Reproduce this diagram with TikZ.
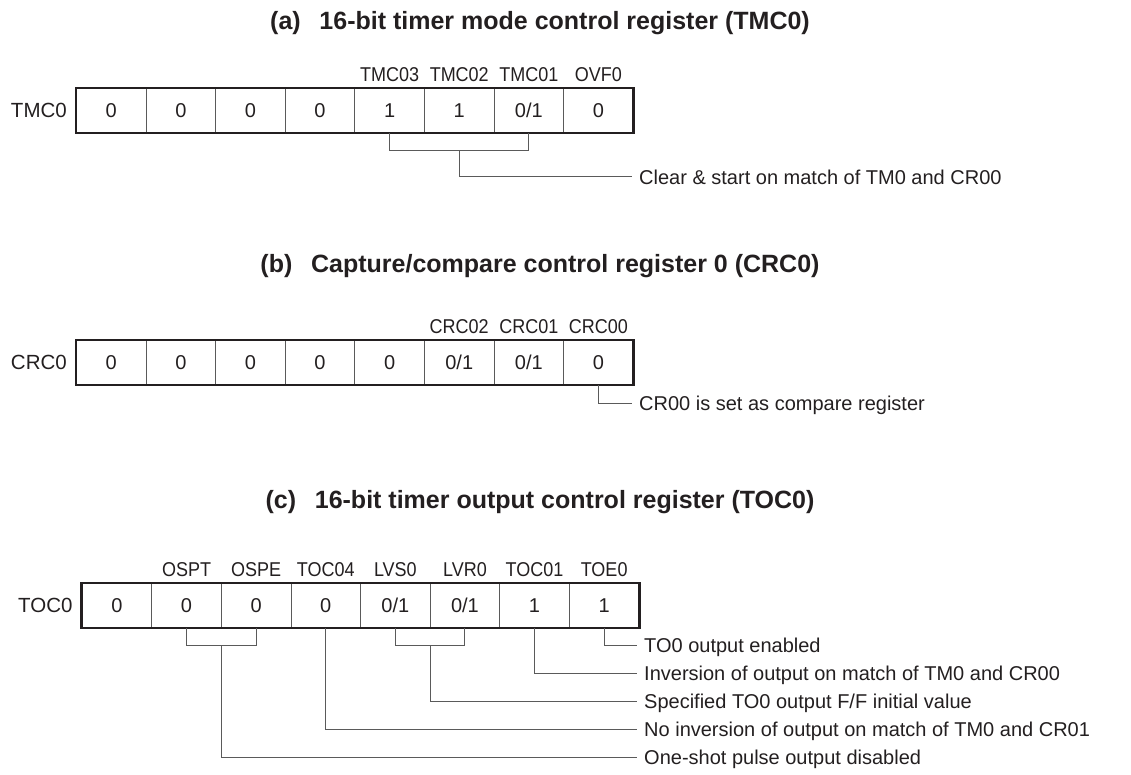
\documentclass[tikz,border=0pt]{standalone}
\usepackage{fontspec}
\setmainfont{Liberation Sans}
\newfontfamily\narrowfont[FakeStretch=0.9]{Liberation Sans}
\usepackage{xcolor}
\usetikzlibrary{positioning,calc}
\definecolor{regInk}{HTML}{231F20}
\definecolor{regGray}{HTML}{5A5A5A}

\begin{document}
\begin{tikzpicture}[x=1pt,y=-1pt,font=\fontsize{20}{24}\selectfont,text=regInk,
  cell/.style={draw=regGray,line width=0.9pt,minimum width=69.6pt,minimum height=44pt,
    inner sep=0pt,anchor=north west,text height=14.3pt,text depth=0pt},
  frame/.style={draw=regInk,line width=2.6pt},
  wire/.style={draw=regGray,line width=1pt},
  head/.style={font=\fontsize{25}{30}\selectfont\bfseries,text height=17.9pt,text depth=0pt},
  regname/.style={inner sep=0pt,font=\fontsize{20.5}{24}\selectfont,text height=14.7pt,text depth=0pt},
  bitname/.style={inner sep=0pt,font=\narrowfont\fontsize{20}{24}\selectfont,text height=14.3pt,text depth=0pt},
  desc/.style={anchor=west,inner xsep=7pt,inner ysep=0pt,text height=14.3pt,text depth=0pt}]
\useasboundingbox (0,0) rectangle (1131,775);

% (a) TMC0
\node[head] (headA) at (540,21) {(a)\hspace{0.75em}16-bit timer mode control register (TMC0)};
\foreach \v [count=\i] in {0,0,0,0,1,1,{0/1},0}
  \node[cell] (tmc\i) at ({76+69.6*(\i-1)},88) {\v};
\draw[frame] (tmc1.north west) rectangle (tmc8.south east);
\node[regname,left=9pt of tmc1] (regA) {TMC0};
\node[bitname,above=6pt of tmc5] {TMC03};
\node[bitname,above=6pt of tmc6] {TMC02};
\node[bitname,above=6pt of tmc7] {TMC01};
\node[bitname,above=6pt of tmc8] {OVF0};
\node[desc] (clrA) at (632,177) {Clear \& start on match of TM0 and CR00};
\coordinate (kA) at (0,151);
\draw[wire] (tmc5.south) |- (tmc7.south |- kA) -- (tmc7.south);
\draw[wire] (tmc6.south |- kA) |- (clrA.west);

% (b) CRC0
\node[head] (headB) at (540,264) {(b)\hspace{0.75em}Capture/compare control register 0 (CRC0)};
\foreach \v [count=\i] in {0,0,0,0,0,{0/1},{0/1},0}
  \node[cell] (crc\i) at ({76+69.6*(\i-1)},340) {\v};
\draw[frame] (crc1.north west) rectangle (crc8.south east);
\node[regname,left=9pt of crc1] (regB) {CRC0};
\node[bitname,above=6pt of crc6] {CRC02};
\node[bitname,above=6pt of crc7] {CRC01};
\node[bitname,above=6pt of crc8] {CRC00};
\node[desc] (cmpB) at (632,403) {CR00 is set as compare register};
\draw[wire] (crc8.south) |- (cmpB.west);

% (c) TOC0
\node[head] (headC) at (540,500) {(c)\hspace{0.75em}16-bit timer output control register (TOC0)};
\foreach \v [count=\i] in {0,0,0,0,{0/1},{0/1},1,1}
  \node[cell] (toc\i) at ({81.7+69.6*(\i-1)},583) {\v};
\draw[frame] (toc1.north west) rectangle (toc8.south east);
\node[regname,left=9pt of toc1] (regC) {TOC0};
\node[bitname,above=6pt of toc2] {OSPT};
\node[bitname,above=6pt of toc3] {OSPE};
\node[bitname,above=6pt of toc4] {TOC04};
\node[bitname,above=6pt of toc5] {LVS0};
\node[bitname,above=6pt of toc6] {LVR0};
\node[bitname,above=6pt of toc7] {TOC01};
\node[bitname,above=6pt of toc8] {TOE0};
\node[desc] (enC) at (637,645) {TO0 output enabled};
\node[desc] (invC) at (637,673) {Inversion of output on match of TM0 and CR00};
\node[desc] (ffC) at (637,701) {Specified TO0 output F/F initial value};
\node[desc] (noinvC) at (637,729) {No inversion of output on match of TM0 and CR01};
\node[desc] (osC) at (637,757) {One-shot pulse output disabled};
\coordinate (kC) at (0,645);
\draw[wire] (toc2.south) |- (toc3.south |- kC) -- (toc3.south);
\draw[wire] (toc5.south) |- (toc6.south |- kC) -- (toc6.south);
\draw[wire] (toc8.south) |- (enC.west);
\draw[wire] (toc7.south) |- (invC.west);
\draw[wire] ($(toc5.south |- kC)!0.5!(toc6.south |- kC)$) |- (ffC.west);
\draw[wire] (toc4.south) |- (noinvC.west);
\draw[wire] ($(toc2.south |- kC)!0.5!(toc3.south |- kC)$) |- (osC.west);
\end{tikzpicture}
\end{document}
